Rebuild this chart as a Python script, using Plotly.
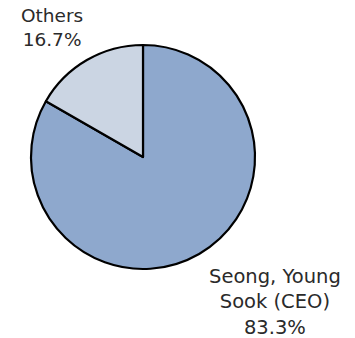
import plotly.graph_objects as go

labels = ["Seong, Young Sook (CEO)", "Others"]
label_lines = ["Seong, Young<br>Sook (CEO)", "Others"]
values = [83.3, 16.7]
colors = ["#8EA8CD", "#CBD5E3"]

W, H = 355, 338
cx, cy, r = 143, 157, 112

fig = go.Figure(go.Pie(
    labels=labels,
    values=values,
    sort=False,
    direction="clockwise",
    rotation=0,
    textinfo="none",
    hoverinfo="label+percent",
    marker=dict(colors=colors, line=dict(color="#000000", width=2.2)),
    domain=dict(x=[(cx - r) / W, (cx + r) / W], y=[1 - (cy + r) / H, 1 - (cy - r) / H]),
    showlegend=False,
))

label_pos = [(275, 302), (52, 28)]
label_sizes = [19.5, 18.5]
for txt, v, (lx, ly), fs in zip(label_lines, values, label_pos, label_sizes):
    fig.add_annotation(
        text=f"{txt}<br>{v:.1f}%",
        xref="paper", yref="paper",
        x=lx / W, y=1 - ly / H,
        xanchor="center", yanchor="middle",
        align="center", showarrow=False,
        font=dict(family="DejaVu Sans", size=fs, color="#2a2a2a"),
    )

fig.update_layout(
    width=W, height=H,
    margin=dict(l=0, r=0, t=0, b=0),
    paper_bgcolor="white", plot_bgcolor="white",
)

fig.write_html("out.html")
